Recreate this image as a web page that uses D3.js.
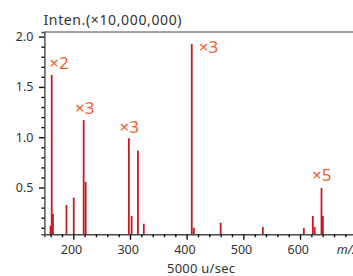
<!DOCTYPE html>
<html><head><meta charset="utf-8">
<script src="https://cdn.jsdelivr.net/npm/d3@7"></script>
<style>
html,body{margin:0;padding:0;background:#fff;overflow:hidden;}
svg{display:block;font-family:"Noto Sans",sans-serif;}
</style></head>
<body>
<svg id="c" width="353" height="276"></svg>
<script>
// Data
const mzValues = [159.8, 161.9, 164.1, 188, 200.8, 218.3, 221.8, 298, 302.9, 314, 324.4, 409, 412.6, 460, 534.4, 606.7, 622.6, 625.9, 637.9, 640.3];
const intensities = [0.12, 1.62, 0.237, 0.326, 0.40, 1.17, 0.555, 0.99, 0.217, 0.866, 0.14, 1.926, 0.10, 0.15, 0.107, 0.097, 0.217, 0.107, 0.495, 0.217];
const magMz = [161.9, 218.3, 298, 409, 637.9];
const magText = ["×2", "×3", "×3", "×3", "×5"];
const xTickLabels = [200, 300, 400, 500, 600];
const yTickLabels = ["0.5", "1.0", "1.5", "2.0"];
const yTitle = "Inten.(×10,000,000)";
const xTitle = "5000 u/sec";

const svg = d3.select("#c");
const x = d3.scaleLinear().domain([149, 700]).range([44.4, 356.7]);
const y = d3.scaleLinear().domain([0.035, 2.046]).range([234.3, 32]);
const axisColor = "#4a4a4a";
const textColor = "#333";
const barColor = "#c41a22";
const labelColor = "#f2602a";

// bars
svg.append("g").selectAll("rect").data(mzValues).join("rect")
  .attr("x", d => x(d) - 0.9)
  .attr("width", 1.8)
  .attr("y", (d, i) => y(intensities[i]))
  .attr("height", (d, i) => y(0.035) - y(intensities[i]))
  .attr("fill", barColor);

// top frame line
svg.append("line").attr("x1", x(149)).attr("x2", x(700)).attr("y1", y(2.046)).attr("y2", y(2.046))
  .attr("stroke", axisColor).attr("stroke-width", 1.2);

// x axis
const xMinor = d3.range(160, 700, 20);
const xAxis = svg.append("g").attr("transform", `translate(0,${y(0.035)})`)
  .call(d3.axisBottom(x).tickValues(xMinor).tickSize(3).tickFormat(""));
xAxis.select(".domain").attr("stroke", axisColor).attr("stroke-width", 1.4);
xAxis.selectAll(".tick line").attr("stroke", "#111").attr("stroke-width", 1.4)
  .attr("y2", d => d % 100 === 0 ? 5.5 : 3);
svg.append("g").selectAll("text").data(xTickLabels).join("text")
  .attr("x", d => x(d) - 1.8).attr("y", 254)
  .attr("text-anchor", "middle").attr("font-size", 12.5).attr("fill", textColor)
  .text(d => d);
svg.append("text").attr("x", 336.7).attr("y", 254).attr("font-size", 12.5)
  .attr("font-style", "italic").attr("fill", textColor).text("m/z");
svg.append("text").attr("x", 201).attr("y", 273).attr("text-anchor", "middle")
  .attr("font-size", 13).attr("fill", textColor)
  .attr("textLength", 68).attr("lengthAdjust", "spacing").text(xTitle);

// y axis
const yMinor = d3.range(1, 21).map(v => v / 10);
const yAxis = svg.append("g").attr("transform", `translate(${x(149)},0)`)
  .call(d3.axisLeft(y).tickValues(yMinor).tickSize(3).tickFormat(""));
yAxis.select(".domain").attr("stroke", axisColor).attr("stroke-width", 1.4);
yAxis.selectAll(".tick line").attr("stroke", "#111").attr("stroke-width", 1.4)
  .attr("x2", d => Math.round(d * 10) % 5 === 0 ? -5.5 : -3);
svg.append("g").selectAll("text").data(yTickLabels).join("text")
  .attr("x", 33.5).attr("y", d => y(+d)).attr("dy", "0.36em")
  .attr("text-anchor", "end").attr("font-size", 12.5).attr("fill", textColor)
  .text(d => d);
svg.append("text").attr("x", 43.5).attr("y", 25.3).attr("font-size", 14)
  .attr("fill", textColor).attr("textLength", 138).attr("lengthAdjust", "spacing")
  .text(yTitle);

// magnification labels
const topOf = m => y(intensities[mzValues.indexOf(m)]);
const place = [
  {anchor: "start", dx: -2.4, dy: -6},
  {anchor: "middle", dx: 1, dy: -5.7},
  {anchor: "middle", dx: 0.3, dy: -5.6},
  {anchor: "start", dx: 6.9, dy: 9.3},
  {anchor: "middle", dx: 0.2, dy: -7}
];
svg.append("g").selectAll("text").data(magMz).join("text")
  .attr("x", (d, i) => x(d) + place[i].dx)
  .attr("y", (d, i) => topOf(d) + place[i].dy)
  .attr("text-anchor", (d, i) => place[i].anchor)
  .attr("font-size", 17).attr("fill", labelColor)
  .text((d, i) => magText[i]);
</script>
</body></html>
